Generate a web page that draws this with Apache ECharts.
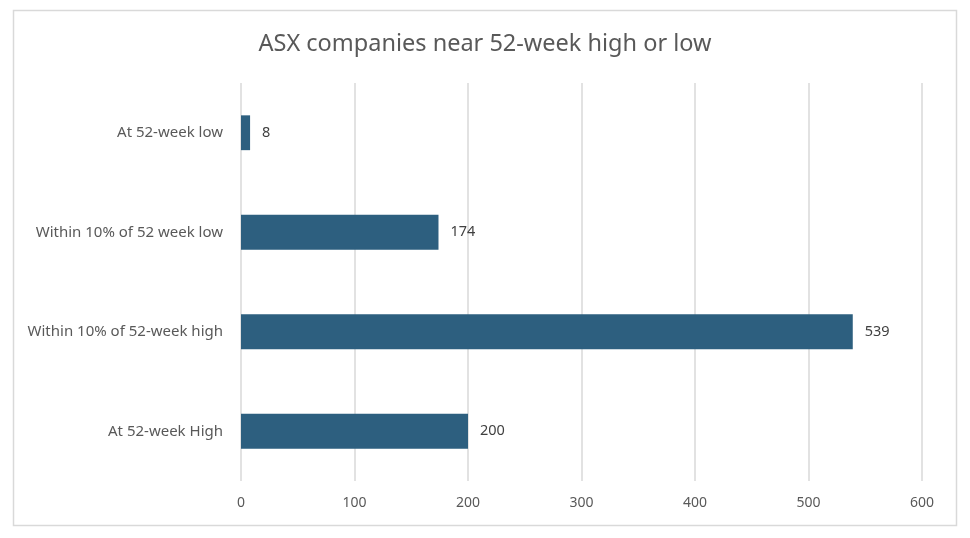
<!DOCTYPE html>
<html>
<head>
<meta charset="utf-8">
<script src="https://cdn.jsdelivr.net/npm/echarts@6/dist/echarts.min.js"></script>
<style>
html,body{margin:0;padding:0;background:#fff;}
#c{width:970px;height:538px;}
</style>
</head>
<body>
<div id="c"></div>
<script>
const categories = ["At 52-week low", "Within 10% of 52 week low", "Within 10% of 52-week high", "At 52-week High"];
const values = [8, 174, 539, 200];
const xTicks = [0, 100, 200, 300, 400, 500, 600];

const chart = echarts.init(document.getElementById('c'), null, {renderer: 'canvas'});
chart.setOption({
  animation: false,
  backgroundColor: '#ffffff',
  title: {
    text: 'ASX companies near 52-week high or low',
    left: 'center',
    top: 27,
    textStyle: {fontFamily: 'Noto Sans', fontSize: 23.5, fontWeight: 'normal', color: '#595959'}
  },
  graphic: [{
    type: 'rect',
    shape: {x: 13.5, y: 10.5, width: 943, height: 515},
    style: {fill: 'none', stroke: '#d9d9d9', lineWidth: 1.5},
    silent: true
  }],
  grid: {left: 241, right: 48, top: 83, bottom: 57, containLabel: false},
  xAxis: {
    type: 'value',
    min: xTicks[0],
    max: xTicks[xTicks.length - 1],
    interval: 100,
    axisLine: {show: false},
    axisTick: {show: false},
    splitLine: {show: true, lineStyle: {color: '#d9d9d9', width: 1.5}},
    axisLabel: {margin: 15, fontFamily: 'Noto Sans', fontSize: 14, color: '#595959'}
  },
  yAxis: {
    type: 'category',
    data: categories,
    inverse: true,
    axisLine: {show: false},
    axisTick: {show: false},
    axisLabel: {margin: 18, fontFamily: 'Noto Sans', fontSize: 15, color: '#595959'}
  },
  series: [{
    type: 'bar',
    data: values,
    barWidth: '35%',
    itemStyle: {color: '#2d5f7f'},
    label: {
      show: true,
      position: 'right',
      distance: 12,
      fontFamily: 'Noto Sans',
      fontSize: 14.5,
      color: '#404040'
    }
  }]
});
</script>
</body>
</html>
